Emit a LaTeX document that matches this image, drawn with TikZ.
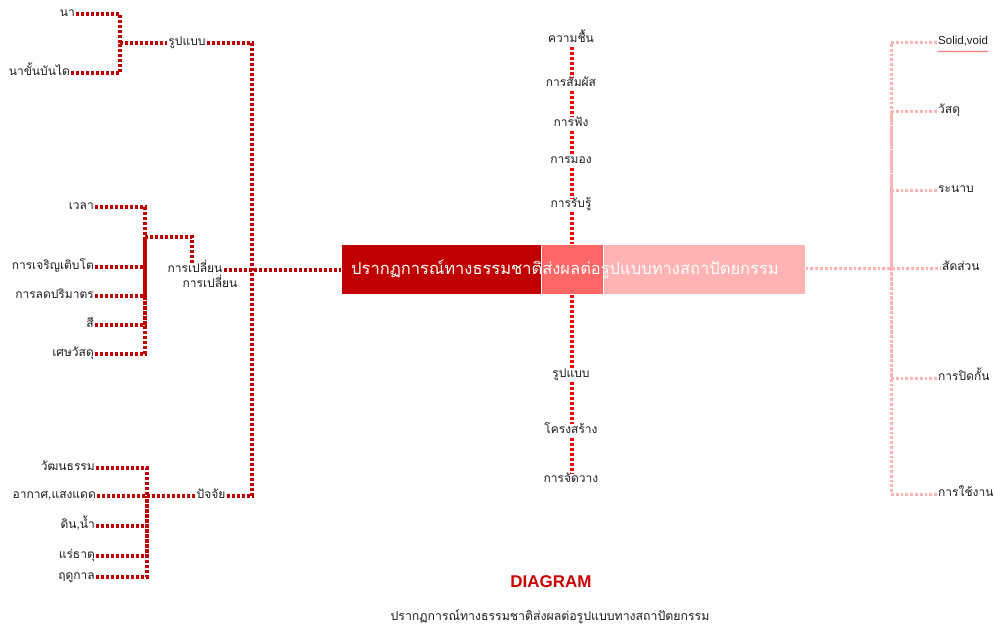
\documentclass[tikz,border=0pt]{standalone}
\usepackage{fontspec}
\setmainfont{Loma}[Script=Thai]
\newfontfamily\latinsans{Liberation Sans}
\usetikzlibrary{decorations.pathmorphing}

\definecolor{deepred}{HTML}{C00000}
\definecolor{midred}{HTML}{FF6666}
\definecolor{palered}{HTML}{FFB3B3}
\definecolor{brightred}{HTML}{FF0000}
\definecolor{titlered}{HTML}{CC0000}
\definecolor{inktext}{HTML}{1E1E1E}

\begin{document}
\begin{tikzpicture}[x=1pt,y=-1pt,
  lbl/.style={inner sep=1pt, text height=7.5pt, text depth=3pt,
    font=\fontsize{12}{14}\selectfont, text=inktext},
  clbl/.style={lbl, fill=white, inner sep=1.5pt},
  ldot/.style={draw=deepred, line width=3.2pt, dash pattern=on 3pt off 2pt},
  cdot/.style={draw=brightred, line width=3.2pt, dash pattern=on 3pt off 2pt},
  rdot/.style={draw=palered, line width=3pt, dash pattern=on 2.8pt off 2pt},
  seg/.style={draw=white, line width=1pt, minimum height=50pt, inner sep=0pt},
]
\useasboundingbox (0,0) rectangle (994,630);

% ---------- central banner ----------
\node[seg, fill=deepred, minimum width=200pt] (seg1) at (441,269.5) {};
\node[seg, fill=midred, minimum width=62pt] (seg2) at (572,269.5) {};
\node[seg, fill=palered, minimum width=202pt] (seg3) at (704,269.5) {};
\node[inner sep=0pt, text=white, font=\fontsize{16.5}{18}\selectfont] (title)
  at (565,269) {ปรากฏการณ์ทางธรรมชาติส่งผลต่อรูปแบบทางสถาปัตยกรรม};

% ---------- left: form ----------
\node[lbl, anchor=east] (na) at (76,14) {นา};
\node[lbl, anchor=east] (nakhan) at (71,73) {นาขั้นบันได};
\node[lbl] (rupL) at (187,43) {รูปแบบ};
\coordinate (jA) at (120,43);
\coordinate (trunk) at (252,270);

% ---------- left: change ----------
\node[lbl, anchor=east] (wela) at (95,207) {เวลา};
\node[lbl, anchor=east] (grow) at (95,267) {การเจริญเติบโต};
\node[lbl, anchor=east] (shrink) at (95,296) {การลดปริมาตร};
\node[lbl, anchor=east] (color) at (95,325) {สี};
\node[lbl, anchor=east] (scrap) at (95,354) {เศษวัสดุ};
\node[lbl] (change) at (195,270) {การเปลี่ยน};
\node[lbl] (changeB) at (210,285) {การเปลี่ยน};
\coordinate (jC) at (145,237);

% ---------- left: factors ----------
\node[lbl, anchor=east] (culture) at (96,468) {วัฒนธรรม};
\node[lbl, anchor=east] (weather) at (97,496) {อากาศ,แสงแดด};
\node[lbl, anchor=east] (soil) at (96,526) {ดิน,น้ำ};
\node[lbl, anchor=east] (mineral) at (96,556) {แร่ธาตุ};
\node[lbl, anchor=east] (season) at (96,577) {ฤดูกาล};
\node[lbl] (factor) at (211,496) {ปัจจัย};
\coordinate (jD) at (147,496);

\draw[ldot] (na.east) -| (jA);
\draw[ldot] (nakhan.east) -| (jA);
\draw[ldot] (jA) -- (rupL.west);
\draw[ldot] (rupL.east) -| (trunk);
\foreach \n in {wela,grow,shrink,color,scrap} \draw[ldot] (\n.east) -| (jC);
\draw[ldot] (jC) -| ([xshift=-3pt]change.north);
\draw[ldot] (change.east) -- (seg1.west |- change.east);
\foreach \n in {culture,weather,soil,mineral,season} \draw[ldot] (\n.east) -| (jD);
\draw[ldot] (jD) -- (factor.west);
\draw[ldot] (factor.east) -| (trunk);

% ---------- centre column ----------
\node[clbl] (humid) at (571,40) {ความชื้น};
\node[clbl] (touch) at (571,84) {การสัมผัส};
\node[clbl] (hear) at (571,124) {การฟัง};
\node[clbl] (see) at (571,161) {การมอง};
\node[clbl] (sense) at (571,205) {การรับรู้};
\node[clbl] (rupC) at (571,375) {รูปแบบ};
\node[clbl] (struct) at (571,431) {โครงสร้าง};
\node[clbl] (layout) at (571,480) {การจัดวาง};

\draw[cdot] (humid.south -| seg2.north) -- (touch.north -| seg2.north);
\draw[cdot] (touch.south -| seg2.north) -- (hear.north -| seg2.north);
\draw[cdot] (hear.south -| seg2.north) -- (see.north -| seg2.north);
\draw[cdot] (see.south -| seg2.north) -- (sense.north -| seg2.north);
\draw[cdot] (sense.south -| seg2.north) -- (seg2.north);
\draw[cdot] (seg2.south) -- (rupC.north -| seg2.south);
\draw[cdot] (rupC.south -| seg2.south) -- (struct.north -| seg2.south);
\draw[cdot] (struct.south -| seg2.south) -- (layout.north -| seg2.south);

% ---------- right: architecture ----------
\node[lbl, anchor=west, font=\latinsans\fontsize{11.5}{13}\selectfont] (solid) at (937,42) {Solid,void};
\node[lbl, anchor=west] (material) at (937,111) {วัสดุ};
\node[lbl, anchor=west] (plane) at (937,190) {ระนาบ};
\node[lbl, anchor=west] (ratio) at (941,268) {สัดส่วน};
\node[lbl, anchor=west] (enclose) at (937,378) {การปิดกั้น};
\node[lbl, anchor=west] (usage) at (937,494) {การใช้งาน};
\coordinate (jR) at (891,268);

\draw[rdot] (seg3.east |- ratio.west) -- (ratio.west);
\foreach \n in {solid,material,plane,enclose,usage} \draw[rdot] (\n.west) -| (jR);
\draw[red!80, line width=0.5pt, decorate,
  decoration={snake, amplitude=0.6pt, segment length=3pt}]
  ([xshift=1pt,yshift=-3pt]solid.south west) -- ([xshift=-1pt,yshift=-3pt]solid.south east);

% ---------- caption ----------
\node[inner sep=0pt, text=titlered, font=\latinsans\bfseries\fontsize{17}{19}\selectfont] (head) at (551,582) {DIAGRAM};
\node[inner sep=0pt, text=inktext, font=\fontsize{12.3}{14}\selectfont] (sub) at (550,617) {ปรากฏการณ์ทางธรรมชาติส่งผลต่อรูปแบบทางสถาปัตยกรรม};
\end{tikzpicture}
\end{document}
